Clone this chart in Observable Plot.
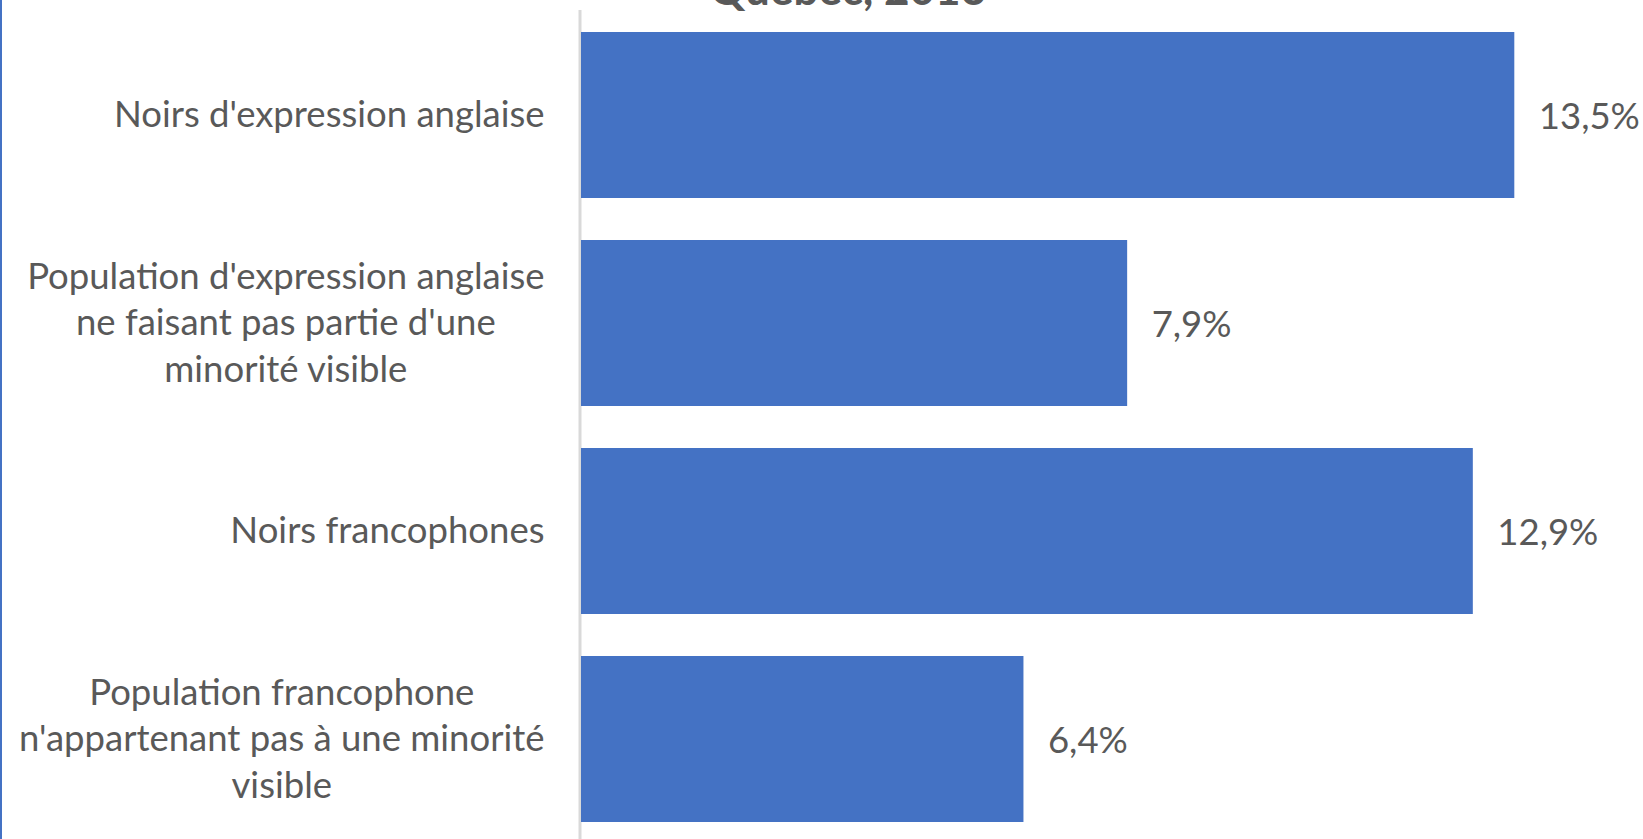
<!DOCTYPE html>
<html>
<head>
<meta charset="utf-8">
<script src="https://cdn.jsdelivr.net/npm/d3@7"></script>
<script src="https://cdn.jsdelivr.net/npm/@observablehq/plot@0.6"></script>
<style>
  html, body { margin: 0; padding: 0; background: #fff; overflow: hidden; width: 1643px; height: 839px; }
  #wrap { position: relative; width: 1643px; height: 839px; overflow: hidden; }
  #title { position: absolute; left: 0; top: -34px; width: 1696px; text-align: center;
           font-family: Lato, sans-serif; font-weight: bold; font-size: 44px; line-height: 44px; color: #595959; white-space: nowrap; }
  #edge { position: absolute; left: 0; top: 0; width: 2px; height: 839px; background: #4472c4; }
  #chart { position: absolute; left: 0; top: 0; }
</style>
</head>
<body>
<div id="wrap">
  <div id="chart"></div>
  <div id="title">Québec, 2016</div>
  <div id="edge"></div>
</div>
<script>
const categories = [
  "Noirs d'expression anglaise",
  "Population d'expression anglaise\nne faisant pas partie d'une\nminorité visible",
  "Noirs francophones",
  "Population francophone\nn'appartenant pas à une minorité\nvisible"
];
const values = [13.5, 7.9, 12.9, 6.4];

const data = categories.map((c, i) => ({category: c, value: values[i]}));

const fontSize = 36.5;
const ctx = document.createElement("canvas").getContext("2d");
ctx.font = fontSize + "px Lato";
const blockWidth = c => Math.max(...c.split("\n").map(l => ctx.measureText(l).width));
const gap = 37;

const fmt = v => v.toFixed(1).replace(".", ",") + "%";

const labelMarks = categories.map(c =>
  Plot.text([c], {
    y: d => d,
    text: d => d,
    frameAnchor: "left",
    textAnchor: "middle",
    lineAnchor: "middle",
    dx: -(gap + blockWidth(c) / 2),
    dy: -3,
    lineHeight: 1.28,
    fontSize: fontSize,
    fill: "#595959"
  })
);

const chart = Plot.plot({
  width: 1643,
  height: 844,
  marginTop: 10,
  marginBottom: 0,
  marginLeft: 581,
  marginRight: 25,
  style: {fontFamily: "Lato, sans-serif", background: "#fff", overflow: "visible"},
  x: {domain: [0, 15], axis: null},
  y: {domain: categories, axis: null, paddingInner: 0.2, paddingOuter: 0.1},
  marks: [
    Plot.ruleX([0], {stroke: "#d9d9d9", strokeWidth: 3, dx: -1.5}),
    Plot.barX(data, {x: "value", y: "category", fill: "#4472c4"}),
    Plot.text(data, {
      x: "value", y: "category", text: d => fmt(d.value),
      textAnchor: "start", dx: 24, dy: 2, fontSize: fontSize, fill: "#595959"
    }),
    ...labelMarks
  ]
});
document.getElementById("chart").appendChild(chart);
</script>
</body>
</html>
